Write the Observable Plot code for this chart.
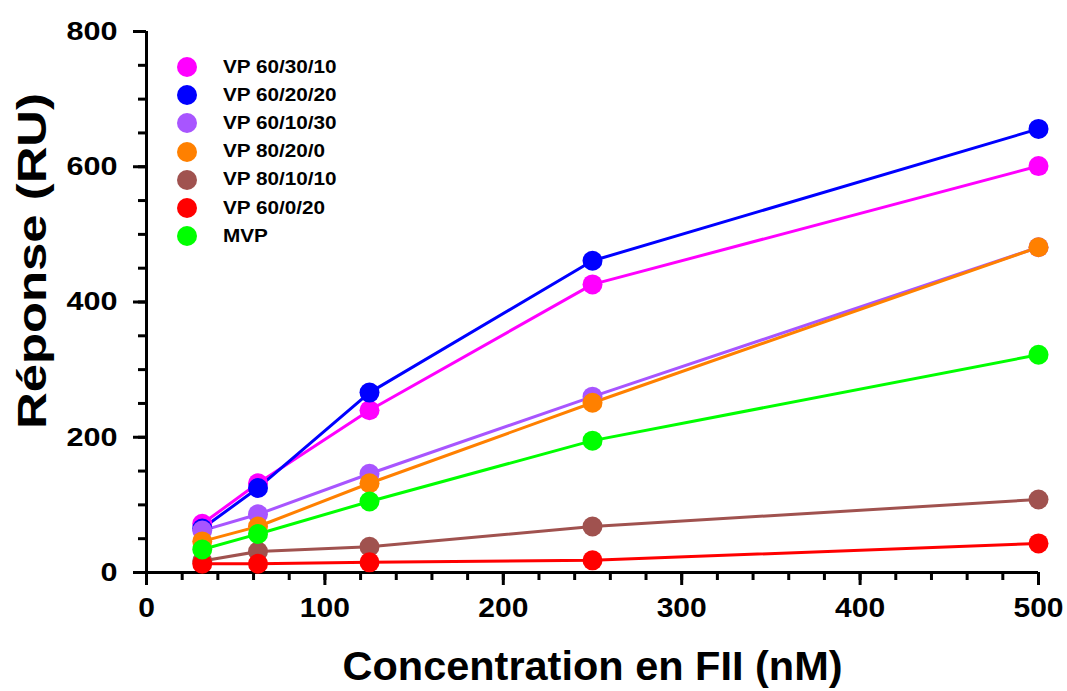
<!DOCTYPE html>
<html><head><meta charset="utf-8">
<script src="https://cdn.jsdelivr.net/npm/d3@7"></script>
<script src="https://cdn.jsdelivr.net/npm/@observablehq/plot@0.6"></script>
<style>
body{margin:0;background:#fff;font-family:"Liberation Sans",Arial,sans-serif;}
#wrap{position:relative;width:1067px;height:691px;overflow:hidden;}
#legend{position:absolute;left:177px;top:53px;font-weight:bold;font-size:18px;color:#000;}
#legend .row{display:flex;align-items:center;height:28.2px;}
#legend .sw{width:20px;height:20px;border-radius:50%;margin-right:26px;flex:none;}
#legend .lab{display:inline-block;transform:scaleX(1.15);transform-origin:left center;white-space:nowrap;}
</style>
</head><body>
<div id="wrap"><div id="legend"></div></div>
<script>
const concentrations = [31.25, 62.5, 125, 250, 500];
const seriesNames = ["VP 60/30/10","VP 60/20/20","VP 60/10/30","VP 80/20/0","VP 80/10/10","VP 60/0/20","MVP"];
const seriesColors = ["#ff00ff","#0000ff","#a855ff","#ff8000","#a0524f","#ff0000","#00ff00"];
const vp603010 = [72, 132, 240, 426, 601];
const vp602020 = [65, 125, 266, 461, 656];
const vp601030 = [62, 86, 146, 260, 481];
const vp80200  = [46, 68, 132, 251, 481];
const vp801010 = [17, 31, 38, 68, 108];
const vp60020  = [13, 13, 15, 18, 43];
const mvp      = [34, 57, 105, 195, 322];
const xTicks = [0,100,200,300,400,500];
const yTicks = [0,200,400,600,800];
const xTitle = "Concentration en FII (nM)";
const yTitle = "Réponse (RU)";

const allValues = [vp603010, vp602020, vp601030, vp80200, vp801010, vp60020, mvp];
const data = [];
seriesNames.forEach((s,i)=>concentrations.forEach((c,j)=>data.push({series:s, x:c, y:allValues[i][j]})));

const color = {domain: seriesNames, range: seriesColors};
const font = "Liberation Sans, Arial, sans-serif";

const chart = Plot.plot({
  width: 1067, height: 691,
  marginLeft: 146, marginRight: 29, marginTop: 31, marginBottom: 119,
  style: {fontFamily: font, background: "white", color: "black", overflow: "visible"},
  x: {domain: [0,500]},
  y: {domain: [0,800]},
  color,
  marks: [
    Plot.axisX({ticks: d3.range(0,501,20), tickSize: 8, strokeWidth: 3, text: null, label: null}),
    Plot.axisX({ticks: xTicks, tickSize: 13, strokeWidth: 3, tickPadding: 12, fontSize: 28, fontWeight: "bold", label: null}),
    Plot.axisY({ticks: d3.range(0,801,50), tickSize: 8, strokeWidth: 3, text: null, label: null}),
    Plot.axisY({ticks: yTicks, tickSize: 13, strokeWidth: 3, tickPadding: 16, fontSize: 26, fontWeight: "bold", label: null}),
    Plot.ruleY([0], {strokeWidth: 3}),
    Plot.ruleX([0], {strokeWidth: 3}),
    Plot.line(data, {x: "x", y: "y", z: "series", stroke: "series", strokeWidth: 3}),
    Plot.dot(data, {x: "x", y: "y", fill: "series", r: 10}),
    Plot.text([xTitle], {frameAnchor: "bottom", dy: 95, fontSize: 40, fontWeight: "bold", lineAnchor: "middle", textAnchor: "middle"}),
    Plot.text([yTitle], {frameAnchor: "left", dx: -114, dy: -41, rotate: -90, fontSize: 41, fontWeight: "bold", lineAnchor: "middle", textAnchor: "middle"})
  ]
});
const svg = d3.select(chart);
svg.selectAll("text").each(function(){
  const t = this.textContent;
  const sel = d3.select(this);
  if (t === yTitle) sel.attr("textLength", 336).attr("lengthAdjust", "spacingAndGlyphs");
  else if (t === xTitle) sel.attr("textLength", 500).attr("lengthAdjust", "spacingAndGlyphs");
  else if (yTicks.map(String).includes(t) && this.closest("g").getAttribute("aria-label") === "y-axis tick label")
    sel.attr("textLength", t.length*17).attr("lengthAdjust", "spacingAndGlyphs");
  else if (xTicks.map(String).includes(t) && this.closest("g").getAttribute("aria-label") === "x-axis tick label")
    sel.attr("textLength", t.length*16.7).attr("lengthAdjust", "spacingAndGlyphs");
});
const wrap = document.getElementById("wrap");
wrap.insertBefore(chart, wrap.firstChild);
const legend = document.getElementById("legend");
seriesNames.forEach((s,i)=>{
  const row = document.createElement("div"); row.className = "row";
  const sw = document.createElement("div"); sw.className = "sw"; sw.style.background = seriesColors[i];
  const t = document.createElement("span"); t.className = "lab"; t.textContent = s;
  row.appendChild(sw); row.appendChild(t); legend.appendChild(row);
});
</script>
</body></html>
